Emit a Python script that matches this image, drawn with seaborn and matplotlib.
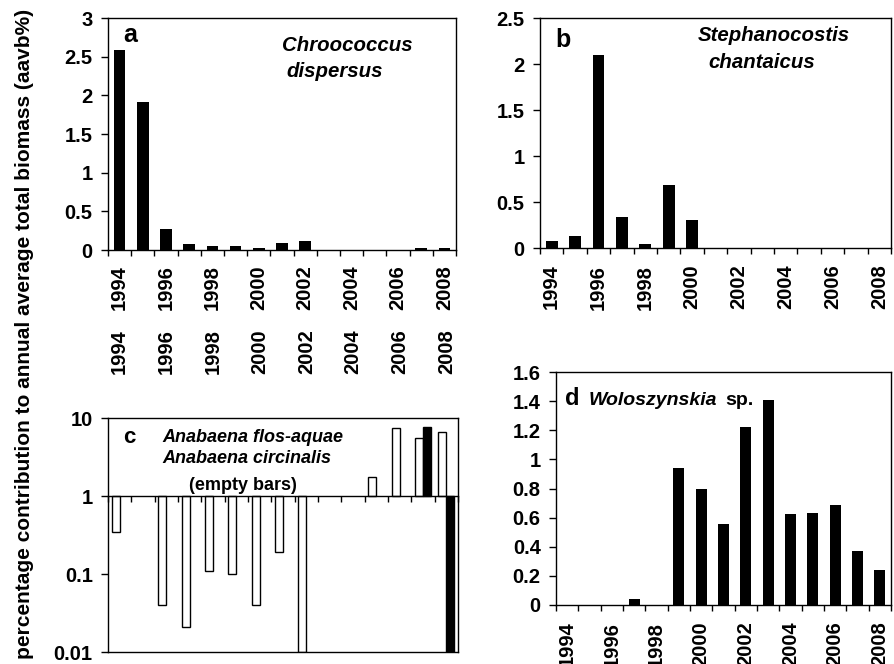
import numpy as np
import pandas as pd
import matplotlib
matplotlib.use("Agg")
import matplotlib.pyplot as plt
import seaborn as sns

plt.rcParams["font.family"] = ["Liberation Sans", "DejaVu Sans"]
plt.rcParams["font.weight"] = "bold"

# ---- data -------------------------------------------------------------
years = [str(y) for y in range(1994, 2009)]
year_labels = ["1994", "1996", "1998", "2000", "2002", "2004", "2006", "2008"]

chroococcus = [2.59, 1.92, 0.275, 0.072, 0.05, 0.05, 0.025, 0.094, 0.12,
               0, 0, 0, 0, 0.025, 0.025]
stephanocostis = [0.08, 0.127, 2.10, 0.337, 0.04, 0.69, 0.30,
                  0, 0, 0, 0, 0, 0, 0, 0]
woloszynskia = [0, 0, 0, 0.039, 0, 0.944, 0.80, 0.557, 1.22, 1.407,
                0.626, 0.635, 0.69, 0.371, 0.24]
# Anabaena (log axis); None = not recorded that year
anabaena_circinalis = [0.35, None, 0.04, 0.021, 0.11, 0.10, 0.04, 0.19, 0.01,
                       None, None, 1.77, 7.4, 5.5, 6.7]
anabaena_flos_aquae = [None] * 13 + [7.7, 0.01]

FS = 14.5
W, H = 894, 664


def axes_px(left, top, right, bottom):
    return [left / W, (H - bottom) / H, (right - left) / W, (bottom - top) / H]


fig = plt.figure(figsize=(W / 100, H / 100), dpi=100)
ax_a = fig.add_axes(axes_px(108, 18, 456, 250))
ax_b = fig.add_axes(axes_px(540, 18, 891, 248))
ax_c = fig.add_axes(axes_px(108, 418, 458, 652))
ax_d = fig.add_axes(axes_px(556, 372, 891, 605))


def frame(ax, label_pad):
    for s in ax.spines.values():
        s.set_visible(True)
        s.set_color("black")
        s.set_linewidth(1.0)
    ax.set_xlim(-0.5, 14.5)
    ax.set_xlabel("")
    ax.set_ylabel("")
    ax.set_xticks(list(range(0, 15, 2)), year_labels)
    ax.set_xticks(np.arange(-0.5, 15, 1), minor=True)
    ax.tick_params(axis="x", which="major", length=0, rotation=90,
                   labelsize=FS, pad=label_pad)
    ax.tick_params(axis="x", which="minor", length=4.5, width=1,
                   direction="out")
    ax.tick_params(axis="y", which="major", length=5, width=1,
                   direction="out", labelsize=FS, pad=6)


def bar_panel(ax, values, ymax, step, label_pad):
    df = pd.DataFrame({"year": years, "value": values})
    sns.barplot(data=df, x="year", y="value", order=years, color="black",
                saturation=1, width=0.5, errorbar=None, ax=ax)
    frame(ax, label_pad)
    ticks = np.round(np.arange(0, ymax + step / 2, step), 2)
    ax.set_ylim(0, ymax)
    ax.set_yticks(ticks, [f"{t:g}" for t in ticks])


bar_panel(ax_a, chroococcus, 3.0, 0.5, 11)
bar_panel(ax_b, stephanocostis, 2.5, 0.5, 12)
bar_panel(ax_d, woloszynskia, 1.6, 0.2, 12)

# ---- panel c: two Anabaena species on a log scale, bars hang from 1 ----
rows = []
for yr, v in zip(years, anabaena_circinalis):
    if v is not None:
        rows.append((yr, "A. circinalis", np.log10(v)))
for yr, v in zip(years, anabaena_flos_aquae):
    if v is not None:
        rows.append((yr, "A. flos-aquae", np.log10(v)))
dfc = pd.DataFrame(rows, columns=["year", "species", "log_value"])
sns.barplot(data=dfc, x="year", y="log_value", hue="species",
            hue_order=["A. circinalis", "A. flos-aquae"],
            palette={"A. circinalis": "white", "A. flos-aquae": "black"},
            order=years, width=0.68, dodge=True, saturation=1,
            edgecolor="black", linewidth=1, errorbar=None, legend=False,
            ax=ax_c)
frame(ax_c, 32)
ax_c.set_ylim(-2, 1)
ax_c.set_yticks([-2, -1, 0, 1], ["0.01", "0.1", "1", "10"])
ax_c.spines["bottom"].set_position(("data", 0))
ax_c.plot([0, 1], [0, 0], transform=ax_c.transAxes, color="black", lw=1,
          clip_on=False)
ax_c.tick_params(axis="x", which="major", bottom=False, top=True,
                 labelbottom=False, labeltop=True)
ax_c.tick_params(axis="x", which="minor", bottom=True, top=False)

# ---- panel annotations ----------------------------------------------
ax_a.text(0.043, 0.897, "a", transform=ax_a.transAxes, fontsize=18,
          ha="left", va="baseline")
ax_a.text(0.50, 0.858, "Chroococcus", transform=ax_a.transAxes,
          fontsize=14.7, style="italic", ha="left", va="baseline")
ax_a.text(0.514, 0.746, "dispersus", transform=ax_a.transAxes,
          fontsize=14.7, style="italic", ha="left", va="baseline")

ax_b.text(0.043, 0.874, "b", transform=ax_b.transAxes, fontsize=18,
          ha="left", va="baseline")
ax_b.text(0.450, 0.90, "Stephanocostis", transform=ax_b.transAxes,
          fontsize=14.7, style="italic", ha="left", va="baseline")
ax_b.text(0.479, 0.783, "chantaicus", transform=ax_b.transAxes,
          fontsize=14.7, style="italic", ha="left", va="baseline")

ax_c.text(0.043, 0.893, "c", transform=ax_c.transAxes, fontsize=16,
          ha="left", va="baseline")
ax_c.text(0.154, 0.897, "Anabaena flos-aquae", transform=ax_c.transAxes,
          fontsize=13, style="italic", ha="left", va="baseline")
ax_c.text(0.154, 0.808, "Anabaena circinalis", transform=ax_c.transAxes,
          fontsize=13, style="italic", ha="left", va="baseline")
ax_c.text(0.231, 0.692, "(empty bars)", transform=ax_c.transAxes,
          fontsize=13, ha="left", va="baseline")

ax_d.text(0.027, 0.858, "d", transform=ax_d.transAxes, fontsize=17,
          ha="left", va="baseline")
ax_d.text(0.0985, 0.858, "Woloszynskia", transform=ax_d.transAxes,
          fontsize=14, style="italic", ha="left", va="baseline")
ax_d.text(0.504, 0.858, "sp.", transform=ax_d.transAxes,
          fontsize=14, ha="left", va="baseline")

fig.text(25 / W, 0.497,
         "percentage contribution to annual average total biomass (aavb%)",
         rotation=90, ha="center", va="center", fontsize=15)

fig.savefig("out.png", dpi=100)
